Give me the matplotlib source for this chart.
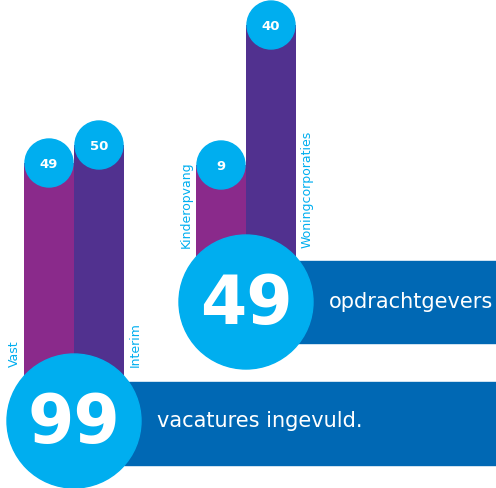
import matplotlib.pyplot as plt
from matplotlib.patches import Circle, Rectangle

# data
labels_1 = ['Vast', 'Interim']
values_1 = [49, 50]
bar_len_1 = [258, 276]      # visual bar length (pixels)
total_1 = 99
text_1 = 'vacatures ingevuld.'

labels_2 = ['Kinderopvang', 'Woningcorporaties']
values_2 = [9, 40]
bar_len_2 = [137, 277]
total_2 = 49
text_2 = 'opdrachtgevers'

purple = '#8A2A8B'
indigo = '#51318F'
cyan = '#00AEEF'
blue = '#0068B4'

plt.rcParams['font.family'] = ['DejaVu Sans']

fig = plt.figure(figsize=(4.96, 4.88), dpi=100)
ax = fig.add_axes([0, 0, 1, 1])
ax.set_xlim(0, 496)
ax.set_ylim(488, 0)
ax.axis('off')


def group(cx, cy, labels, values, lens, total, text, band_x, band_y, band_h):
    xs = [cx - 25, cx + 25]
    ax.bar(xs, [-l for l in lens], bottom=cy, width=50,
           color=[purple, indigo], zorder=1)
    for x, l, v in zip(xs, lens, values):
        ax.add_patch(Circle((x, cy - l), 24, color=cyan, zorder=2))
        ax.text(x, cy - l + 1, str(v), color='white', fontsize=9.5,
                fontweight='bold', ha='center', va='center', zorder=3)
    ax.add_patch(Rectangle((band_x, band_y), 496 - band_x, band_h,
                           color=blue, zorder=2))
    ax.add_patch(Circle((cx, cy), 67, color=cyan, zorder=3))
    ax.text(cx, cy + 3, str(total), color='white', fontsize=48,
            fontweight='bold', ha='center', va='center', zorder=4)
    ax.text(band_x + 33, cy, text, color='white', fontsize=15,
            ha='left', va='center', zorder=4)
    ax.text(cx - 60, cy - 54, labels[0], color=cyan, fontsize=9,
            rotation=90, ha='center', va='bottom', zorder=4)
    ax.text(cx + 61, cy - 54, labels[1], color=cyan, fontsize=9,
            rotation=90, ha='center', va='bottom', zorder=4)


group(246, 302, labels_2, values_2, bar_len_2, total_2, text_2, 296, 261, 82)
group(74, 421, labels_1, values_1, bar_len_1, total_1, text_1, 124, 382, 83)

fig.savefig('out.png', dpi=100)
